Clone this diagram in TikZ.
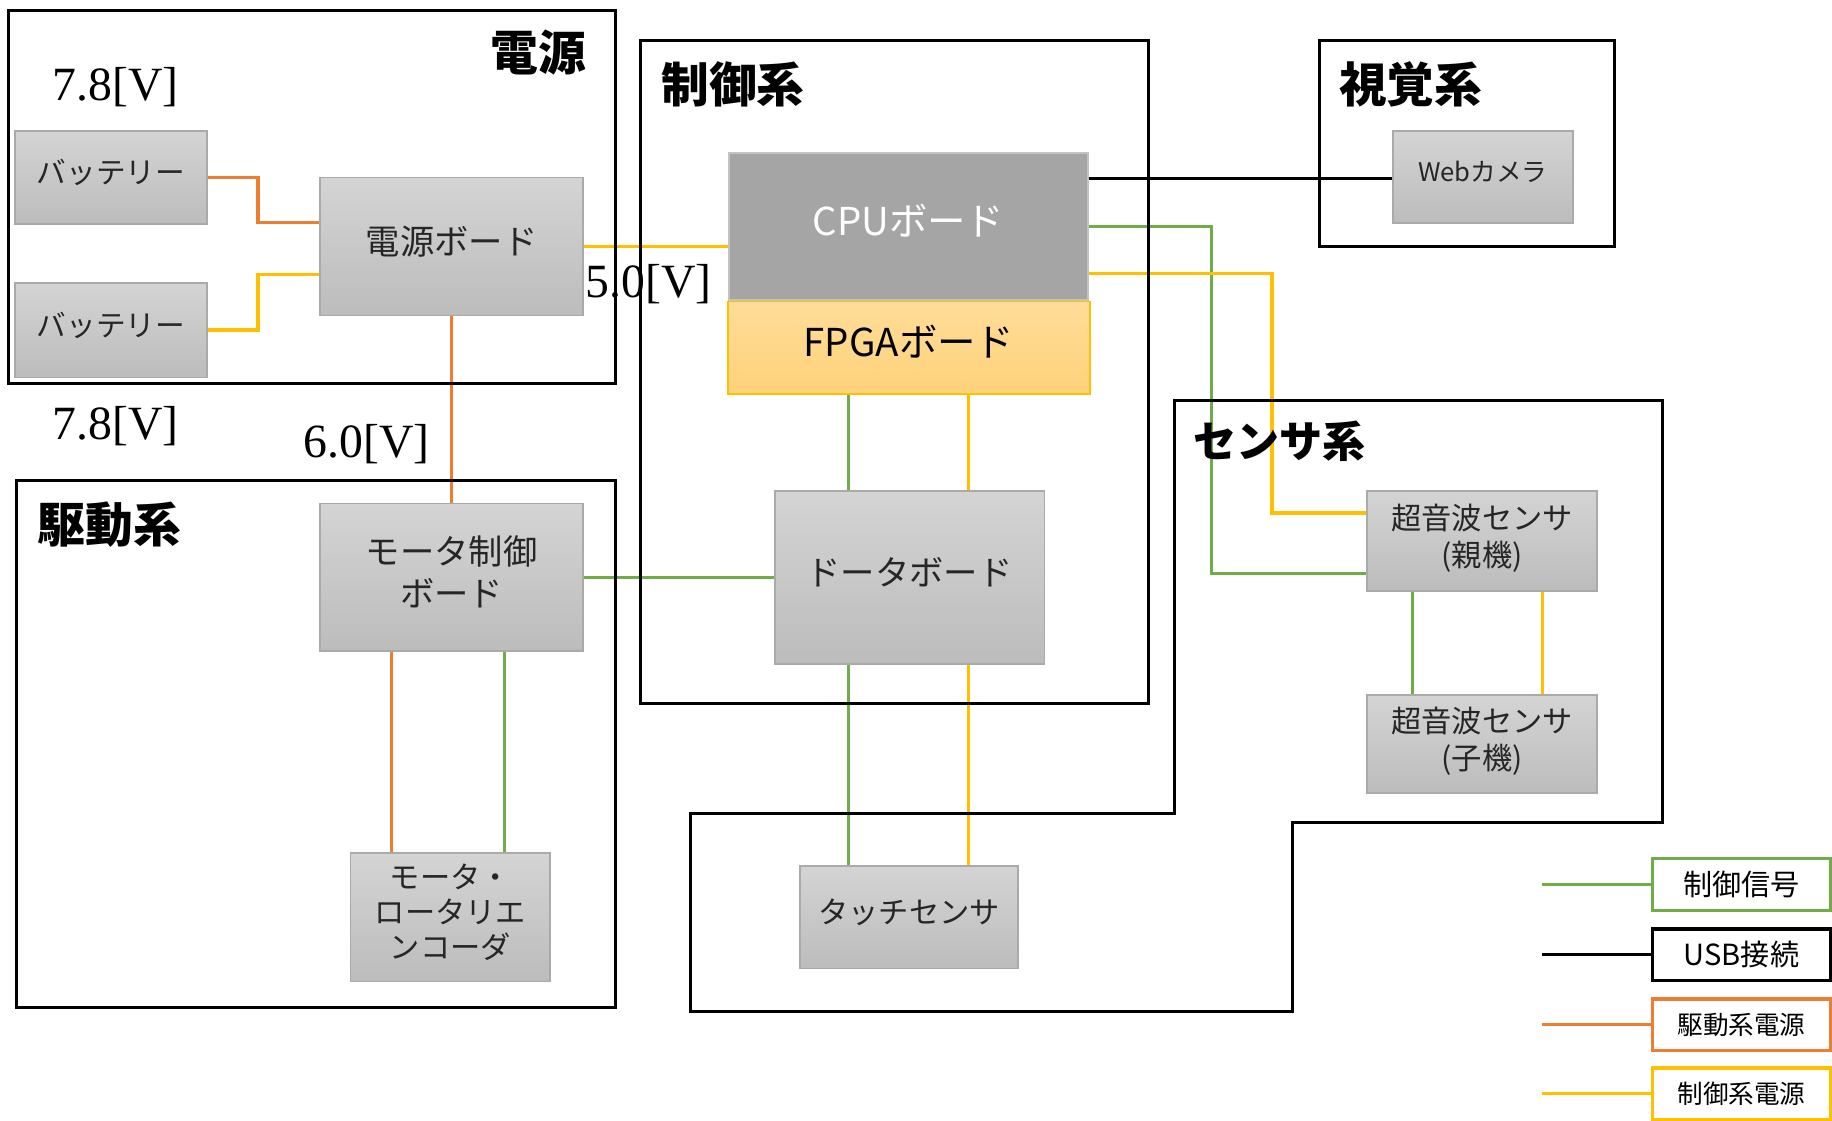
\documentclass[tikz,border=0pt]{standalone}
\usepackage{fontspec}
\newfontfamily\jp{Noto Sans CJK JP}
\newfontfamily\tms{Liberation Serif}
\usetikzlibrary{calc}
\definecolor{cO}{HTML}{ED7D31}
\definecolor{cY}{HTML}{FFC000}
\definecolor{cG}{HTML}{70AD47}
\definecolor{gtop}{HTML}{D4D4D4}
\definecolor{gbot}{HTML}{BCBCBC}
\definecolor{gbrd}{HTML}{AAAAAA}
\definecolor{cpuf}{HTML}{A5A5A5}
\definecolor{ftop}{HTML}{FFDC98}
\definecolor{fbot}{HTML}{FFD27A}
\begin{document}
\begin{tikzpicture}[x=1bp,y=-1bp,
  gbox/.style={draw=gbrd, line width=1.5bp, top color=gtop, bottom color=gbot, inner sep=0pt, align=center, text=black!85, text depth=10bp, font=\jp\fontsize{29.5}{36}\selectfont},
  small/.style={font=\jp\fontsize{26}{32}\selectfont},
  frame/.style={draw=black, line width=2.5bp},
  title/.style={inner sep=0pt, anchor=west, font=\jp\bfseries\fontsize{41}{42}\selectfont},
  volt/.style={inner sep=0pt, font=\tms\fontsize{41}{41}\selectfont},
  org/.style={draw=cO, line width=2.8bp},
  yel/.style={draw=cY, line width=2.8bp},
  grn/.style={draw=cG, line width=2.8bp},
  blk/.style={draw=black, line width=2.8bp},
  leg/.style={line width=2.8bp, fill=white, minimum width=152bp, minimum height=44bp, inner sep=0pt}
]
\useasboundingbox (0,0) rectangle (1568,959);

% ---------- nodes ----------
\node[gbox, small, font=\jp\fontsize{25.5}{32}\selectfont, minimum width=164bp, minimum height=80bp] (bat1) at (95,152) {バッテリー};
\node[gbox, small, font=\jp\fontsize{25.5}{32}\selectfont, minimum width=164bp, minimum height=81bp] (bat2) at (95,282.5) {バッテリー};
\node[gbox, minimum width=225bp, minimum height=118bp] (pwr) at (386.5,211) {電源ボード};
\node[gbox, minimum width=225bp, minimum height=126bp] (mcb) at (386.5,494) {モータ制御\\ボード};
\node[gbox, minimum width=171bp, minimum height=110bp, font=\jp\fontsize{26}{30}\selectfont] (enc) at (385.5,785) {モータ・\\ロータリエ\\ンコーダ};
\node[draw=gbrd!70, line width=1.5bp, fill=cpuf, text=white, minimum width=307bp, minimum height=126bp, inner sep=0pt, text depth=12bp, font=\jp\fontsize{33}{38}\selectfont] (cpu) at (777.5,194) {CPUボード};
\node[draw=cY, line width=1.5bp, top color=ftop, bottom color=fbot, text=black, minimum width=310bp, minimum height=79bp, inner sep=0pt, text depth=11bp, font=\jp\fontsize{33}{38}\selectfont] (fpga) at (778,297.5) {FPGAボード};
\node[gbox, minimum width=231bp, minimum height=148bp] (dau) at (778.5,494) {ドータボード};
\node[gbox, small, minimum width=186bp, minimum height=88bp] (touch) at (778,785) {タッチセンサ};
\node[gbox, minimum width=154bp, minimum height=79bp, font=\jp\fontsize{22}{28}\selectfont] (web) at (1269,151.5) {Webカメラ};
\node[gbox, small, minimum width=197bp, minimum height=86bp] (us1) at (1268.5,463) {超音波センサ\\(親機)};
\node[gbox, small, minimum width=197bp, minimum height=84bp] (us2) at (1268.5,637) {超音波センサ\\(子機)};

% ---------- connectors ----------
\draw[org] (bat1.east) -- ++(43,0) |- ([yshift=-39bp]pwr.north west);
\draw[yel] (bat2.east) -- ++(43,0) |- ([yshift=36bp]pwr.south west);
\draw[yel] (pwr.east) -- (pwr.east -| cpu.west);
\draw[org] (pwr.south) -- (mcb.north);
\draw[grn] (mcb.east) -- (dau.west);
\draw[org] ([xshift=-51.5bp]mcb.south) -- ([xshift=-51.5bp]mcb.south |- enc.north);
\draw[grn] ([xshift=45.5bp]mcb.south) -- ([xshift=45.5bp]mcb.south |- enc.north);
\draw[grn] ([xshift=-52.5bp]dau.north) -- ([xshift=-52.5bp]dau.north |- fpga.south);
\draw[yel] ([xshift=50.5bp]dau.north) -- ([xshift=50.5bp]dau.north |- fpga.south);
\draw[grn] ([xshift=-52.5bp]dau.south) -- ([xshift=-52.5bp]dau.south |- touch.north);
\draw[yel] ([xshift=50.5bp]dau.south) -- ([xshift=50.5bp]dau.south |- touch.north);
\draw[blk] ([yshift=-1.5bp]web.west -| cpu.east) -- ([yshift=-1.5bp]web.west);
\draw[grn] (cpu.east) -- ++(105,0) |- ([yshift=-28bp]us1.west);
\draw[yel] ([yshift=-40bp]cpu.east) -- ++(157,0) |- ([yshift=24bp]us1.west);
\draw[grn] ([xshift=-59.5bp]us1.south) -- ([xshift=-59.5bp]us1.south |- us2.north);
\draw[yel] ([xshift=51.5bp]us1.south) -- ([xshift=51.5bp]us1.south |- us2.north);

% ---------- frames ----------
\draw[frame] (7,9) rectangle (527,328);
\draw[frame] (14,411) rectangle (527,862);
\draw[frame] (548,35) rectangle (983,602);
\draw[frame] (1129,35) rectangle (1382,211);
\draw[frame] (1005,343) -- (1423,343) -- (1423,704) -- (1106,704) -- (1106,866) -- (591,866) -- (591,696) -- (1005,696) -- cycle;

% ---------- titles ----------
\node[title] (tpwr) at (420,45) {電源};
\node[title] (tctl) at (566,72) {制御系};
\node[title] (tvis) at (1146,72) {視覚系};
\node[title] (tdrv) at (32,449) {駆動系};
\node[title, font=\jp\bfseries\fontsize{37}{40}\selectfont] (tsen) at (1021,378) {センサ系};

% ---------- voltages ----------
\node[volt] (v1) at (99,75) {7.8[V]};
\node[volt] (v2) at (99,365) {7.8[V]};
\node[volt] (v3) at (314,380) {6.0[V]};
\node[volt] (v4) at (555,243) {5.0[V]};

% ---------- legend ----------
\node[leg, draw=cG, font=\jp\fontsize{25}{30}\selectfont] (lg1) at (1490.5,757) {制御信号};
\node[leg, draw=black, font=\jp\fontsize{25}{30}\selectfont] (lg2) at (1490.5,817) {USB接続};
\node[leg, draw=cO, font=\jp\fontsize{22}{28}\selectfont] (lg3) at (1490.5,877) {駆動系電源};
\node[leg, draw=cY, font=\jp\fontsize{22}{28}\selectfont] (lg4) at (1490.5,936) {制御系電源};
\coordinate (e1) at (1320,757);
\coordinate (e2) at (1320,817);
\coordinate (e3) at (1320,877);
\coordinate (e4) at (1320,936);
\draw[grn] (e1) -- (lg1.west);
\draw[blk] (e2) -- (lg2.west);
\draw[org] (e3) -- (lg3.west);
\draw[yel] (e4) -- (lg4.west);
\end{tikzpicture}
\end{document}
